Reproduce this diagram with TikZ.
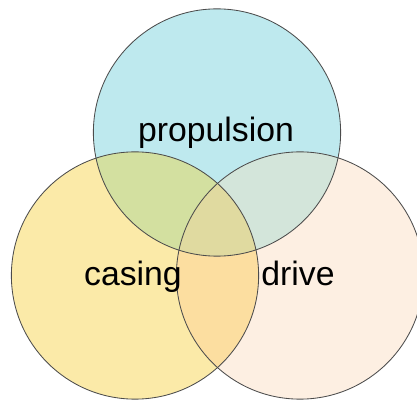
\documentclass[tikz,border=0pt]{standalone}
\usepackage{fontspec}
\setmainfont{Liberation Sans}
\usetikzlibrary{positioning}
\definecolor{topc}{RGB}{190,233,238}
\definecolor{leftc}{RGB}{251,234,168}
\definecolor{rightc}{RGB}{253,239,226}
\definecolor{tlc}{RGB}{211,224,160}
\definecolor{trc}{RGB}{211,229,218}
\definecolor{lrc}{RGB}{252,222,160}
\definecolor{allc}{RGB}{224,218,160}
\newcommand{\rad}{3.09cm}

\begin{document}
\begin{tikzpicture}[x=0.025cm,y=-0.025cm,
	ring/.style={draw=black!70,line width=0.6pt},
	word/.style={anchor=base,font=\fontsize{24}{28}\selectfont}]

	\useasboundingbox (0,0) rectangle (417,400);

	\coordinate (T) at (217,132.5);
	\coordinate (L) at (135,275.5);
	\coordinate (R) at (300,275.5);

	% single sets
	\fill[topc] (T) circle[radius=\rad];
	\fill[leftc] (L) circle[radius=\rad];
	\fill[rightc] (R) circle[radius=\rad];

	% overlaps
	\begin{scope}
		\clip (T) circle[radius=\rad];
		\fill[tlc] (L) circle[radius=\rad];
		\fill[trc] (R) circle[radius=\rad];
	\end{scope}
	\begin{scope}
		\clip (L) circle[radius=\rad];
		\fill[lrc] (R) circle[radius=\rad];
		\clip (R) circle[radius=\rad];
		\fill[allc] (T) circle[radius=\rad];
	\end{scope}

	\draw[ring] (T) circle[radius=\rad];
	\draw[ring] (L) circle[radius=\rad];
	\draw[ring] (R) circle[radius=\rad];

	\node[word] (prop) at (216,142) {propulsion};
	\node[word] (cas) at (133,286) {casing};
	\node[word] (drv) at (298,286) {drive};

\end{tikzpicture}
\end{document}
